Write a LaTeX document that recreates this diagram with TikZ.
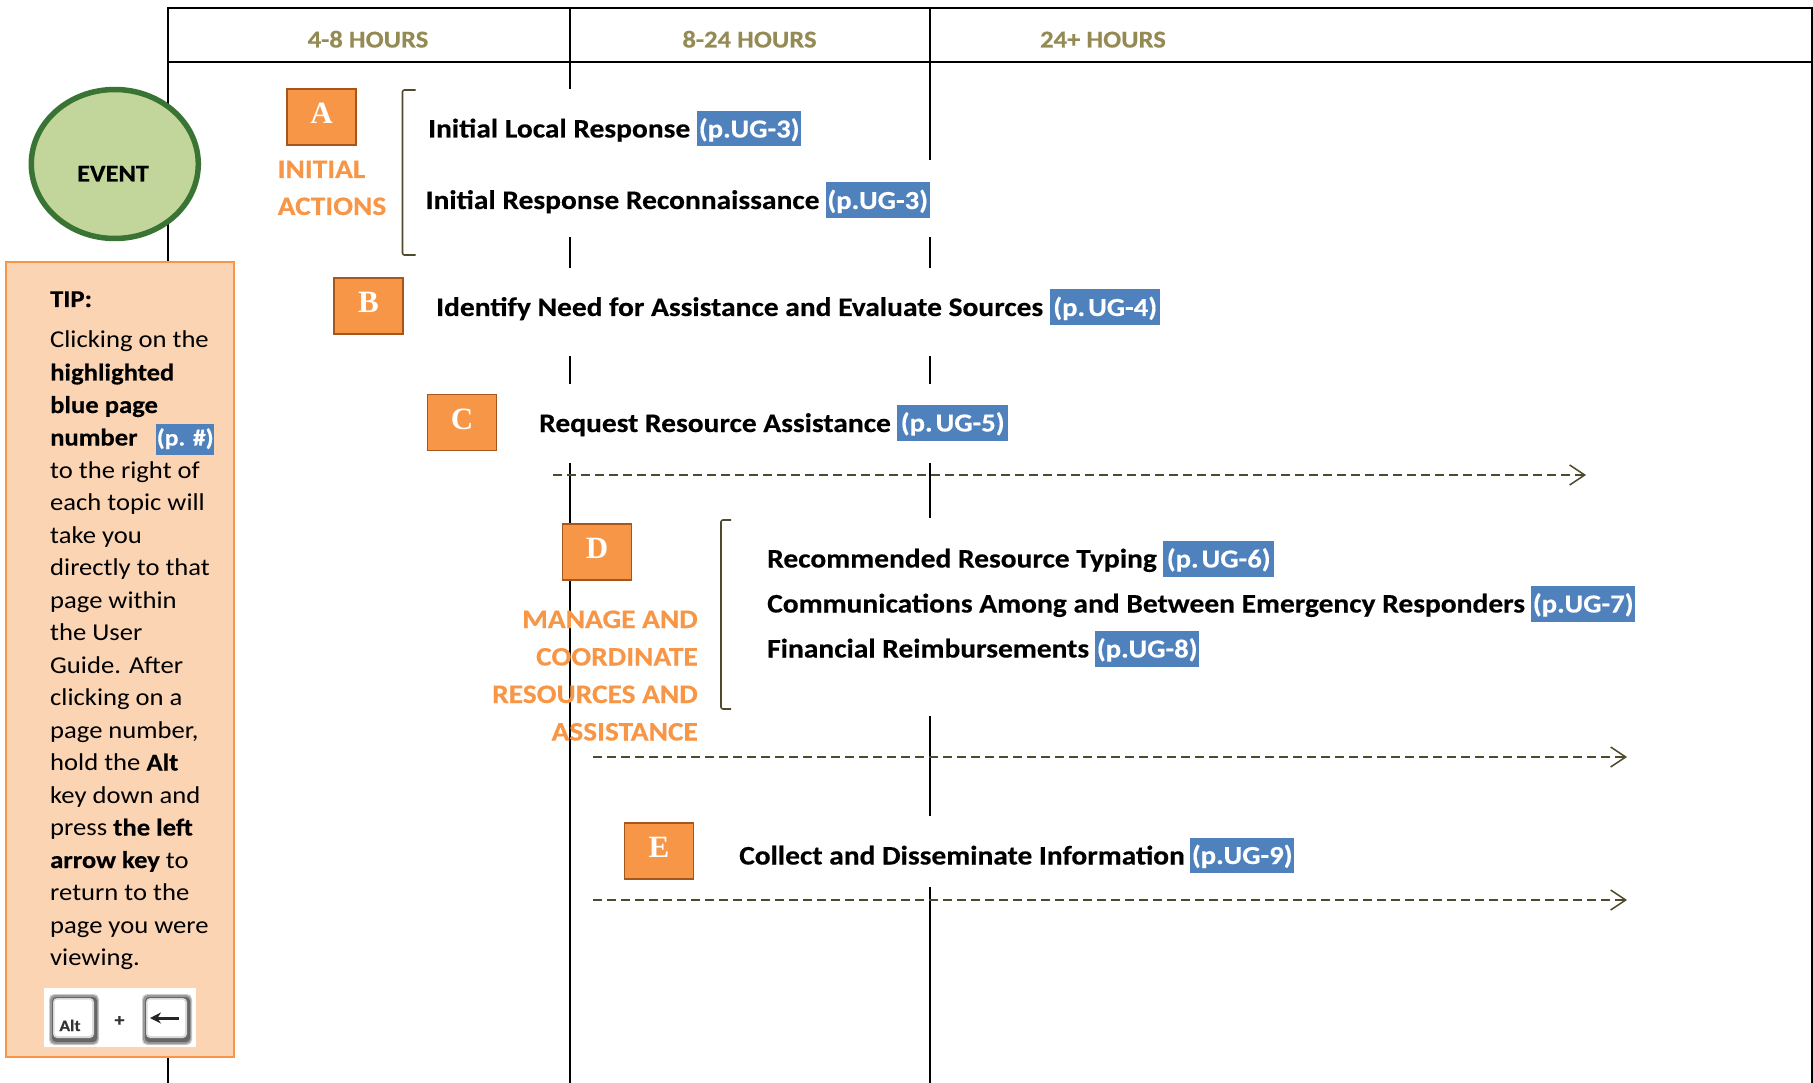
\documentclass[tikz,border=0pt]{standalone}
\usepackage{fontspec}
\setmainfont[FakeStretch=1.1,BoldFeatures={FakeBold=0.35}]{Carlito}
\newfontfamily\letterfont[FakeStretch=1.0]{Liberation Serif}
\usetikzlibrary{arrows.meta,shapes.geometric}
\definecolor{orangeF}{HTML}{F79646}
\definecolor{orangeD}{HTML}{A5561A}
\definecolor{tipF}{HTML}{FBD4B4}
\definecolor{blueH}{HTML}{4F81BD}
\definecolor{olive}{HTML}{948A54}
\definecolor{dkolive}{HTML}{4F4A2E}
\definecolor{greenF}{HTML}{C2D69B}
\definecolor{greenD}{HTML}{3A7434}
\tikzset{
 frameline/.style={draw=black,line width=2pt},
 hourlabel/.style={anchor=base,text=olive,font=\fontsize{24.2}{28}\selectfont\bfseries,inner sep=0pt},
 topic/.style={anchor=base west,text=black,font=\fontsize{26.8}{30}\selectfont\bfseries,inner sep=0pt},
 pageref/.style={anchor=base west,fill=blueH,text=white,font=\fontsize{26}{30}\selectfont\bfseries,inner sep=0pt,text height=26.5pt,text depth=9pt},
 stepbox/.style={draw=orangeD,fill=orangeF,line width=1.8pt,minimum width=69pt,minimum height=56pt,inner sep=0pt,text=white,text height=22pt,text depth=9pt,font=\fontsize{31}{34}\selectfont\letterfont\bfseries},
 orangelabel/.style={text=orangeF,font=\fontsize{26.7}{31}\selectfont\bfseries,inner sep=0pt},
 tiptext/.style={anchor=base west,text=black,font=\fontsize{24.2}{28}\selectfont,inner sep=0pt},
 bracketline/.style={draw=dkolive,line width=1.6pt,rounded corners=2pt},
 flowarrow/.style={draw=dkolive,line width=1.5pt,dash pattern=on 9pt off 5pt,-{Straight Barb[length=15pt,width=20pt,line width=1.5pt]}},
}
\begin{document}
\begin{tikzpicture}[x=1pt,y=-1pt]
\useasboundingbox (0,0) rectangle (1813,1083);
% coordinates of the frame
\coordinate (tl) at (168,8); \coordinate (tr) at (1812,8);
\coordinate (hl) at (168,62.5); \coordinate (hr) at (1812,62.5);
\coordinate (bl) at (168,1083);
\draw[frameline] (bl) -- (tl) -- (tr) -- (1812,1083);
\draw[frameline] (hl) -- (hr);
% column lines
\foreach \a/\b in {8/89,237/268,356/384,463/1083} \draw[frameline] (570,\a) -- (570,\b);
\foreach \a/\b in {8/160,237/268,356/384,463/518,716/816,887/1083} \draw[frameline] (930,\a) -- (930,\b);
% header
\node[hourlabel] (h1) at (368,47.5) {4-8 HOURS};
\node[hourlabel] (h2) at (749.5,47.5) {8-24 HOURS};
\node[hourlabel] (h3) at (1103,47.5) {24+ HOURS};
% event
\node[draw=greenD,fill=greenF,line width=5.5pt,ellipse,minimum width=167pt,minimum height=149pt,inner sep=0pt] (event) at (114.8,164) {};
\node[anchor=base,font=\fontsize{24}{28}\selectfont\bfseries,inner sep=0pt] (eventt) at (113,181.5) {EVENT};
% tip box
\node[draw=orangeF,fill=tipF,line width=2.2pt,minimum width=228pt,minimum height=795pt,inner sep=0pt] (tip) at (120,659.5) {};
\node[tiptext] (t1) at (50,307) {\bfseries TIP:};
\node[tiptext] (t2) at (50,348) {Clicking on the};
\node[tiptext] (t3) at (50,380.5) {\bfseries highlighted};
\node[tiptext] (t4) at (50,413) {\bfseries blue page};
\node[tiptext] (t5) at (50,445.5) {\bfseries number};
\node[anchor=base west,fill=blueH,text=white,font=\fontsize{23.2}{28}\selectfont\bfseries,inner sep=0pt,text height=22pt,text depth=9pt,minimum width=58pt] (t5b) at (156,445.5) {(p. \#)};
\node[tiptext] (t6) at (50,478) {to the right of};
\node[tiptext] (t7) at (50,510.5) {each topic will};
\node[tiptext] (t8) at (50,543) {take you};
\node[tiptext] (t9) at (50,575.5) {directly to that};
\node[tiptext] (t10) at (50,608) {page within};
\node[tiptext] (t11) at (50,640.5) {the User};
\node[tiptext] (t12) at (50,673) {Guide. After};
\node[tiptext] (t13) at (50,705.5) {clicking on a};
\node[tiptext] (t14) at (50,738) {page number,};
\node[tiptext] (t15) at (50,770.5) {hold the \textbf{Alt}};
\node[tiptext] (t16) at (50,803) {key down and};
\node[tiptext] (t17) at (50,835.5) {press \textbf{the left}};
\node[tiptext] (t18) at (50,868) {\textbf{arrow key} to};
\node[tiptext] (t19) at (50,900.5) {return to the};
\node[tiptext] (t20) at (50,933) {page you were};
\node[tiptext] (t21) at (50,965.5) {viewing.};
% keys
\fill[white] (44,988) rectangle (196,1047);
\foreach \kx in {50,143}{
 \fill[black!20,rounded corners=5pt] (\kx-1,994) rectangle (\kx+49,1045);
 \fill[black!40,rounded corners=5pt] (\kx,995) rectangle (\kx+48,1044);
 \fill[black!60,rounded corners=4pt] (\kx+2,997) rectangle (\kx+47,1042);
 \fill[black!15,rounded corners=4pt] (\kx+3,998) rectangle (\kx+44,1038);
 \fill[white,rounded corners=3pt] (\kx+4.5,999.5) rectangle (\kx+42,1036);
}
\node[anchor=base,font=\fontsize{16}{18}\selectfont\bfseries,text=black!80,inner sep=0pt] (alt) at (70,1031) {Alt};
\node[anchor=base,font=\fontsize{18}{20}\selectfont\bfseries,text=black!80,inner sep=0pt] (plus) at (119.5,1026) {+};
\coordinate (ka) at (179,1018); \coordinate (kb) at (150,1018);
\draw[line width=3pt,black!85,-{Stealth[length=11pt,width=11pt]}] (ka) -- (kb);
% step boxes
\node[stepbox] (A) at (321.5,117) {A};
\node[stepbox] (B) at (368.5,306) {B};
\node[stepbox] (C) at (462,422.5) {C};
\node[stepbox] (D) at (597,552) {D};
\node[stepbox] (E) at (659,851) {E};
% orange labels
\node[orangelabel,anchor=base west] (l1) at (277.5,178) {INITIAL};
\node[orangelabel,anchor=base west] (l2) at (277.5,215) {ACTIONS};
\node[orangelabel,anchor=base east] (l3) at (698,628) {MANAGE AND};
\node[orangelabel,anchor=base east] (l4) at (698,665.5) {COORDINATE};
\node[orangelabel,anchor=base east] (l5) at (698,703) {RESOURCES AND};
\node[orangelabel,anchor=base east] (l6) at (698,740.5) {ASSISTANCE};
% brackets
\draw[bracketline] (415.5,90) -- (402.5,90) -- (402.5,255) -- (415.5,255);
\draw[bracketline] (731,520) -- (721,520) -- (721,709) -- (731,709);
% topics
\node[topic] (a1) at (428,137.5) {Initial Local Response};
\node[pageref,minimum width=104pt] (a1p) at (697,137.5) {(p.UG-3)};
\node[topic] (a2) at (425.5,209) {Initial Response Reconnaissance};
\node[pageref,minimum width=104pt] (a2p) at (825.5,209) {(p.UG-3)};
\node[topic] (b1) at (436,316) {Identify Need for Assistance and Evaluate Sources};
\node[pageref,minimum width=110pt] (b1p) at (1050,316) {(p.\kern3pt UG-4)};
\node[topic] (c1) at (539,432) {Request Resource Assistance};
\node[pageref,minimum width=111pt] (c1p) at (897,431.5) {(p.\kern3pt UG-5)};
\node[topic] (d1) at (767,567.5) {Recommended Resource Typing};
\node[pageref,minimum width=111pt] (d1p) at (1163,567.5) {(p.\kern3pt UG-6)};
\node[topic] (d2) at (767,612.5) {Communications Among and Between Emergency Responders};
\node[pageref,minimum width=104pt] (d2p) at (1531,612.5) {(p.UG-7)};
\node[topic] (d3) at (767,657.5) {Financial Reimbursements};
\node[pageref,minimum width=104pt] (d3p) at (1095,657.5) {(p.UG-8)};
\node[topic] (e1) at (739,864.5) {Collect and Disseminate Information};
\node[pageref,minimum width=104pt] (e1p) at (1190,864) {(p.UG-9)};
% dashed arrows
\coordinate (f1a) at (553,475); \coordinate (f1b) at (1586,475);
\coordinate (f2a) at (593,757); \coordinate (f2b) at (1627,757);
\coordinate (f3a) at (593,900); \coordinate (f3b) at (1627,900);
\draw[flowarrow] (f1a) -- (f1b);
\draw[flowarrow] (f2a) -- (f2b);
\draw[flowarrow] (f3a) -- (f3b);
\end{tikzpicture}
\end{document}
